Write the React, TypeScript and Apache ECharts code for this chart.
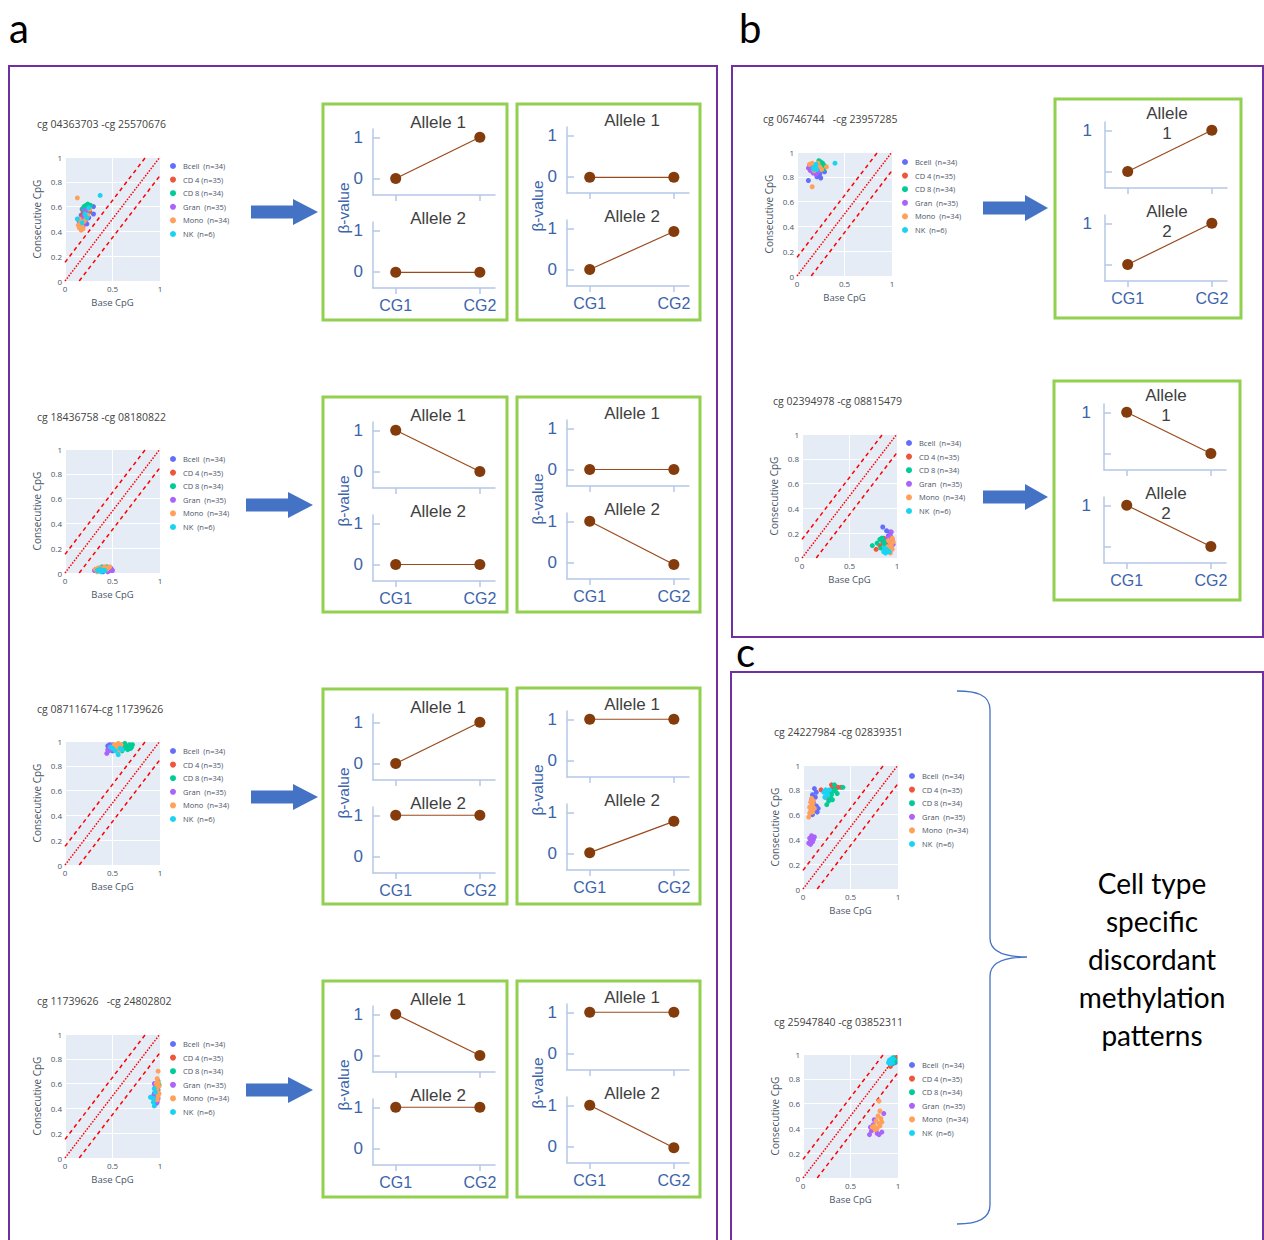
import React, { useEffect, useRef } from "react";
import * as echarts from "echarts";

// ---------- scatter data (Base CpG, Consecutive CpG) ----------
const GROUP_NAMES = ["Bcell  (n=34)", "CD 4 (n=35)", "CD 8 (n=34)", "Gran  (n=35)", "Mono  (n=34)", "NK  (n=6)"];
const GROUP_COLORS = ["#636EFA", "#EF553B", "#00CC96", "#AB63FA", "#FFA15A", "#19D3F3"];

// a1: cg04363703-cg25570676
const a1Bcell = [[0.18,0.58],[0.2,0.55],[0.22,0.52],[0.19,0.5],[0.24,0.57],[0.21,0.48],[0.17,0.53],[0.25,0.51],[0.3,0.6],[0.3,0.54],[0.23,0.46],[0.2,0.59]];
const a1CD4 = [[0.19,0.56],[0.22,0.58],[0.24,0.54],[0.18,0.52],[0.21,0.5],[0.23,0.6],[0.2,0.47],[0.26,0.56],[0.17,0.49],[0.22,0.53]];
const a1CD8 = [[0.22,0.61],[0.24,0.62],[0.26,0.6],[0.2,0.6],[0.23,0.58],[0.25,0.57],[0.27,0.61],[0.21,0.56],[0.24,0.55],[0.19,0.58]];
const a1Gran = [[0.17,0.45],[0.19,0.47],[0.16,0.43],[0.21,0.57],[0.18,0.5],[0.22,0.49],[0.2,0.52],[0.15,0.48],[0.23,0.55],[0.19,0.44]];
const a1Mono = [[0.13,0.67],[0.15,0.43],[0.17,0.41],[0.16,0.46],[0.18,0.44],[0.14,0.45],[0.2,0.48],[0.22,0.5],[0.17,0.48],[0.24,0.53],[0.26,0.58],[0.15,0.5],[0.19,0.42]];
const a1NK = [[0.37,0.69],[0.13,0.5],[0.21,0.54],[0.25,0.59],[0.18,0.47],[0.23,0.51]];

// a2: cg18436758-cg08180822
const a2Bcell = [[0.38,0.03],[0.42,0.02],[0.46,0.03],[0.49,0.02],[0.35,0.02],[0.44,0.04],[0.4,0.01],[0.48,0.04]];
const a2CD4 = [[0.36,0.03],[0.41,0.04],[0.45,0.02],[0.39,0.02],[0.43,0.03],[0.47,0.03],[0.33,0.02]];
const a2CD8 = [[0.39,0.05],[0.42,0.04],[0.37,0.04],[0.44,0.05],[0.46,0.04],[0.4,0.03]];
const a2Gran = [[0.43,0.02],[0.47,0.02],[0.49,0.03],[0.38,0.02],[0.45,0.01],[0.41,0.03],[0.5,0.02],[0.31,0.02]];
const a2Mono = [[0.32,0.03],[0.35,0.04],[0.38,0.04],[0.42,0.05],[0.45,0.04],[0.47,0.05],[0.4,0.02],[0.36,0.02],[0.44,0.03],[0.34,0.01]];
const a2NK = [[0.34,0.02],[0.36,0.02],[0.38,0.01],[0.4,0.02],[0.37,0.03],[0.42,0.02]];

// a3: cg08711674-cg11739626
const a3Bcell = [[0.45,0.96],[0.48,0.94],[0.52,0.95],[0.56,0.97],[0.6,0.95],[0.5,0.92],[0.58,0.93],[0.47,0.97],[0.63,0.96]];
const a3CD4 = [[0.53,0.96],[0.57,0.95],[0.61,0.97],[0.55,0.93],[0.59,0.94],[0.64,0.95]];
const a3CD8 = [[0.62,0.94],[0.65,0.96],[0.68,0.97],[0.7,0.95],[0.66,0.93],[0.63,0.98],[0.69,0.94],[0.71,0.97],[0.6,0.92],[0.67,0.95]];
const a3Gran = [[0.44,0.9],[0.45,0.93],[0.47,0.95],[0.49,0.93],[0.51,0.96],[0.46,0.92],[0.53,0.94],[0.5,0.97]];
const a3Mono = [[0.52,0.97],[0.54,0.95],[0.56,0.98],[0.58,0.96],[0.55,0.94],[0.57,0.92],[0.53,0.93],[0.59,0.97],[0.51,0.95]];
const a3NK = [[0.56,0.89],[0.48,0.95],[0.53,0.92],[0.58,0.94],[0.6,0.93],[0.5,0.94]];

// a4: cg11739626-cg24802802
const a4Bcell = [[0.95,0.48],[0.96,0.52],[0.97,0.5],[0.94,0.46],[0.98,0.55],[0.95,0.54],[0.96,0.44],[0.97,0.57]];
const a4CD4 = [[0.96,0.49],[0.97,0.53],[0.95,0.51],[0.98,0.58],[0.94,0.47]];
const a4CD8 = [[0.98,0.62],[0.97,0.56],[0.96,0.54],[0.99,0.59],[0.95,0.5]];
const a4Gran = [[0.94,0.6],[0.95,0.56],[0.96,0.47],[0.94,0.52],[0.97,0.45],[0.95,0.58],[0.93,0.5],[0.98,0.48]];
const a4Mono = [[0.98,0.7],[0.97,0.64],[0.96,0.6],[0.98,0.61],[0.97,0.55],[0.99,0.52],[0.96,0.57],[0.98,0.5],[0.97,0.47],[0.99,0.58]];
const a4NK = [[0.9,0.49],[0.94,0.42],[0.93,0.45],[0.95,0.53],[0.94,0.56],[0.93,0.48]];

// b1: cg06746744-cg23957285
const b1Bcell = [[0.12,0.77],[0.14,0.86],[0.18,0.84],[0.21,0.8],[0.24,0.82],[0.27,0.85],[0.2,0.88],[0.16,0.9],[0.25,0.79],[0.29,0.84]];
const b1CD4 = [[0.17,0.87],[0.22,0.89],[0.25,0.91],[0.19,0.85],[0.23,0.86],[0.28,0.88]];
const b1CD8 = [[0.23,0.93],[0.25,0.92],[0.27,0.91],[0.29,0.89],[0.24,0.9],[0.28,0.86],[0.26,0.88]];
const b1Gran = [[0.12,0.87],[0.14,0.85],[0.17,0.83],[0.2,0.82],[0.19,0.86],[0.15,0.88],[0.22,0.84],[0.13,0.89]];
const b1Mono = [[0.16,0.72],[0.13,0.9],[0.16,0.91],[0.19,0.89],[0.21,0.87],[0.24,0.88],[0.26,0.86],[0.31,0.88],[0.18,0.85],[0.22,0.91]];
const b1NK = [[0.4,0.91],[0.17,0.87],[0.19,0.88],[0.21,0.86],[0.2,0.9],[0.18,0.86]];

// b2: cg02394978-cg08815479
const b2Bcell = [[0.85,0.25],[0.89,0.22],[0.93,0.21],[0.91,0.18],[0.88,0.15],[0.94,0.13],[0.87,0.11],[0.92,0.09]];
const b2CD4 = [[0.78,0.07],[0.82,0.1],[0.85,0.13],[0.88,0.08],[0.9,0.12],[0.86,0.16]];
const b2CD8 = [[0.74,0.1],[0.79,0.12],[0.82,0.15],[0.84,0.16],[0.86,0.12],[0.88,0.1],[0.83,0.08],[0.87,0.14]];
const b2Gran = [[0.94,0.21],[0.93,0.18],[0.95,0.15],[0.92,0.12],[0.94,0.09],[0.9,0.16],[0.96,0.11]];
const b2Mono = [[0.91,0.14],[0.93,0.12],[0.94,0.1],[0.95,0.07],[0.92,0.06],[0.96,0.13],[0.93,0.04],[0.9,0.09],[0.95,0.16]];
const b2NK = [[0.86,0.05],[0.88,0.04],[0.9,0.06],[0.92,0.05],[0.87,0.08],[0.89,0.07]];

// c1: cg24227984-cg02839351
const c1Bcell = [[0.12,0.81],[0.1,0.76],[0.13,0.74],[0.11,0.7],[0.14,0.67],[0.12,0.64],[0.15,0.62],[0.1,0.6],[0.09,0.72],[0.14,0.78],[0.16,0.65]];
const c1CD4 = [[0.19,0.8],[0.24,0.74],[0.28,0.77],[0.31,0.81],[0.34,0.83],[0.37,0.82],[0.4,0.82],[0.3,0.84],[0.27,0.79]];
const c1CD8 = [[0.25,0.68],[0.27,0.71],[0.29,0.73],[0.3,0.76],[0.32,0.79],[0.34,0.8],[0.36,0.77],[0.33,0.84],[0.42,0.82],[0.28,0.79],[0.31,0.72]];
const c1Gran = [[0.06,0.37],[0.08,0.39],[0.1,0.38],[0.07,0.41],[0.09,0.43],[0.11,0.4],[0.12,0.42],[0.08,0.36]];
const c1Mono = [[0.06,0.58],[0.07,0.61],[0.08,0.63],[0.09,0.66],[0.1,0.68],[0.11,0.71],[0.08,0.7],[0.12,0.65],[0.07,0.66],[0.1,0.62],[0.09,0.73]];
const c1NK = [[0.22,0.78],[0.24,0.8],[0.26,0.76],[0.23,0.74],[0.28,0.8],[0.25,0.78]];

// c2: cg25947840-cg03852311
const c2Bcell = [[0.92,0.94],[0.95,0.95],[0.97,0.93],[0.94,0.92],[0.96,0.96]];
const c2CD4 = [[0.92,0.9],[0.94,0.95],[0.96,0.94],[0.97,0.97],[0.93,0.93]];
const c2CD8 = [[0.93,0.95],[0.95,0.97],[0.97,0.95],[0.96,0.93],[0.94,0.94]];
const c2Gran = [[0.7,0.35],[0.72,0.38],[0.74,0.43],[0.75,0.47],[0.78,0.36],[0.8,0.35],[0.83,0.37],[0.85,0.52],[0.71,0.41],[0.77,0.39]];
const c2Mono = [[0.8,0.62],[0.81,0.54],[0.79,0.5],[0.82,0.48],[0.77,0.46],[0.8,0.44],[0.75,0.42],[0.78,0.4],[0.83,0.45],[0.76,0.39],[0.73,0.41],[0.81,0.42]];
const c2NK = [[0.9,0.93],[0.91,0.95],[0.93,0.96],[0.92,0.92],[0.94,0.93],[0.95,0.96]];

// ---------- allele β-values at CG1, CG2 ----------
const r1b1Allele1 = [0, 1];
const r1b1Allele2 = [-0.02, -0.02];
const r1b2Allele1 = [-0.02, -0.02];
const r1b2Allele2 = [0, 0.92];
const r2b1Allele1 = [1, 0];
const r2b1Allele2 = [0, 0];
const r2b2Allele1 = [0, 0];
const r2b2Allele2 = [1, -0.05];
const r3b1Allele1 = [0, 1];
const r3b1Allele2 = [1, 1];
const r3b2Allele1 = [1, 1];
const r3b2Allele2 = [0.02, 0.78];
const r4b1Allele1 = [1, 0];
const r4b1Allele2 = [1, 1];
const r4b2Allele1 = [1, 1];
const r4b2Allele2 = [1, -0.03];
const pb1Allele1 = [0, 1];
const pb1Allele2 = [0, 1];
const pb2Allele1 = [1, 0];
const pb2Allele2 = [1, 0];

const CG_LABELS = ["CG1", "CG2"];

// ---------- layout ----------
const scatterPlots = [
  { title: "cg 04363703 -cg 25570676", tx: 37, ty: 124, left: 65, top: 157, lgLeft: 170, lgTop: 161, groups: [a1Bcell, a1CD4, a1CD8, a1Gran, a1Mono, a1NK] },
  { title: "cg 18436758 -cg 08180822", tx: 37, ty: 417, left: 65, top: 449, lgLeft: 170, lgTop: 454, groups: [a2Bcell, a2CD4, a2CD8, a2Gran, a2Mono, a2NK] },
  { title: "cg 08711674-cg 11739626", tx: 37, ty: 709, left: 65, top: 741, lgLeft: 170, lgTop: 746, groups: [a3Bcell, a3CD4, a3CD8, a3Gran, a3Mono, a3NK] },
  { title: "cg 11739626   -cg 24802802", tx: 37, ty: 1001, left: 65, top: 1034, lgLeft: 170, lgTop: 1039, groups: [a4Bcell, a4CD4, a4CD8, a4Gran, a4Mono, a4NK] },
  { title: "cg 06746744   -cg 23957285", tx: 763, ty: 119, left: 797, top: 152, lgLeft: 902, lgTop: 157, groups: [b1Bcell, b1CD4, b1CD8, b1Gran, b1Mono, b1NK] },
  { title: "cg 02394978 -cg 08815479", tx: 773, ty: 401, left: 802, top: 434, lgLeft: 906, lgTop: 438, groups: [b2Bcell, b2CD4, b2CD8, b2Gran, b2Mono, b2NK] },
  { title: "cg 24227984 -cg 02839351", tx: 774, ty: 732, left: 803, top: 765, lgLeft: 909, lgTop: 771, groups: [c1Bcell, c1CD4, c1CD8, c1Gran, c1Mono, c1NK] },
  { title: "cg 25947840 -cg 03852311", tx: 774, ty: 1022, left: 803, top: 1054, lgLeft: 909, lgTop: 1060, groups: [c2Bcell, c2CD4, c2CD8, c2Gran, c2Mono, c2NK] },
];

const alleleBoxes = [
  { left: 323, top: 104, w: 184, h: 216, dy: 0, b: false, a1: r1b1Allele1, a2: r1b1Allele2 },
  { left: 517, top: 104, w: 183, h: 216, dy: -2, b: false, a1: r1b2Allele1, a2: r1b2Allele2 },
  { left: 323, top: 397, w: 184, h: 215, dy: 0, b: false, a1: r2b1Allele1, a2: r2b1Allele2 },
  { left: 517, top: 397, w: 183, h: 215, dy: -2, b: false, a1: r2b2Allele1, a2: r2b2Allele2 },
  { left: 323, top: 689, w: 184, h: 215, dy: 0, b: false, a1: r3b1Allele1, a2: r3b1Allele2 },
  { left: 517, top: 688, w: 183, h: 216, dy: -2, b: false, a1: r3b2Allele1, a2: r3b2Allele2 },
  { left: 323, top: 981, w: 184, h: 216, dy: 0, b: false, a1: r4b1Allele1, a2: r4b1Allele2 },
  { left: 517, top: 981, w: 183, h: 216, dy: -2, b: false, a1: r4b2Allele1, a2: r4b2Allele2 },
  { left: 1055, top: 99, w: 186, h: 219, dy: -2, b: true, a1: pb1Allele1, a2: pb1Allele2 },
  { left: 1054, top: 381, w: 186, h: 219, dy: -2, b: true, a1: pb2Allele1, a2: pb2Allele2 },
];

const arrows = [
  [251, 293, 318, 212], [246, 288, 313, 505], [251, 293, 318, 797], [246, 288, 313, 1090],
  [983, 1025, 1048, 208], [983, 1025, 1048, 497],
];

const BRACE_D = "M957,691 C975,691 990,694 990,710 L990,938 C990,952 1005,957 1027,957 C1005,957 990,962 990,976 L990,1205 C990,1220 975,1224 957,1224";
echarts.graphic.registerShape("brace", echarts.graphic.extendPath(BRACE_D, {}));

const BLUE = "#3C64AA";
const AXIS_BLUE = "#B4C7E7";
const BROWN = "#843C0C";
const SCAT_TEXT = "#4a5568";

function buildOption() {
  const grid: any[] = [];
  const xAxis: any[] = [];
  const yAxis: any[] = [];
  const series: any[] = [];
  const legend: any[] = [];
  const els: any[] = [];

  // panel borders and letters
  els.push({ type: "rect", shape: { x: 9, y: 66, width: 708, height: 1190 }, style: { fill: "none", stroke: "#7030A0", lineWidth: 2 }, z: 0 });
  els.push({ type: "rect", shape: { x: 732, y: 66, width: 531, height: 571 }, style: { fill: "none", stroke: "#7030A0", lineWidth: 2 }, z: 0 });
  els.push({ type: "rect", shape: { x: 731, y: 672, width: 532, height: 590 }, style: { fill: "none", stroke: "#7030A0", lineWidth: 2 }, z: 0 });
  const letter = (t: string, x: number, y: number) => ({ type: "text", x, y, style: { text: t, fontSize: 40, fontFamily: "Lato", fill: "#000", align: "left", verticalAlign: "middle" } });
  els.push(letter("a", 9, 28), letter("b", 739, 28), letter("c", 736, 652));

  // scatter plots
  scatterPlots.forEach((p, i) => {
    grid.push({ left: p.left, top: p.top, width: 95, height: 124, show: true, backgroundColor: "#E5ECF6", borderWidth: 0 });
    xAxis.push({
      type: "value", gridIndex: i, min: 0, max: 1, interval: 0.5,
      axisLine: { show: false }, axisTick: { show: false },
      splitLine: { show: true, lineStyle: { color: "#ffffff", width: 1 } },
      axisLabel: { fontSize: 8, color: SCAT_TEXT, margin: 3, fontFamily: "Open Sans" },
      name: "Base CpG", nameLocation: "middle", nameGap: 16,
      nameTextStyle: { fontSize: 9.5, color: SCAT_TEXT, fontFamily: "Open Sans" },
    });
    yAxis.push({
      type: "value", gridIndex: i, min: 0, max: 1, interval: 0.2,
      axisLine: { show: false }, axisTick: { show: false },
      splitLine: { show: true, lineStyle: { color: "#ffffff", width: 1 } },
      axisLabel: { fontSize: 8, color: SCAT_TEXT, margin: 3, fontFamily: "Open Sans" },
      name: "Consecutive CpG", nameLocation: "middle", nameGap: 23,
      nameTextStyle: { fontSize: 10, color: SCAT_TEXT, fontFamily: "Open Sans" },
    });
    const diag = (d: number[][], type: any) => ({
      type: "line", xAxisIndex: i, yAxisIndex: i, data: d, symbol: "none", silent: true, z: 1,
      lineStyle: { color: "#FF0000", width: 1.5, type },
    });
    series.push(diag([[0, 0.15], [0.85, 1]], [4, 3.5]));
    series.push(diag([[0, 0], [1, 1]], [1.5, 1.5]));
    series.push(diag([[0.15, 0], [1, 0.85]], [4, 3.5]));
    p.groups.forEach((g, k) => {
      series.push({
        type: "scatter", name: GROUP_NAMES[k], xAxisIndex: i, yAxisIndex: i, data: g,
        symbolSize: 5, z: 2, itemStyle: { color: GROUP_COLORS[k], opacity: 1 },
      });
    });
    legend.push({
      data: GROUP_NAMES, selectedMode: false, orient: "vertical", left: p.lgLeft, top: p.lgTop,
      itemWidth: 6, itemHeight: 6, itemGap: 3.6, icon: "circle", padding: 0,
      textStyle: { fontSize: 7.5, color: SCAT_TEXT, lineHeight: 10, fontFamily: "Open Sans", padding: [0, 0, 0, 2] },
    });
    els.push({ type: "text", x: p.tx, y: p.ty, style: { text: p.title, fontSize: 10.5, fontFamily: "Open Sans", fill: "#444", align: "left", verticalAlign: "middle" } });
  });

  // allele boxes
  let gi = scatterPlots.length;
  alleleBoxes.forEach((bx) => {
    els.push({ type: "rect", shape: { x: bx.left, y: bx.top, width: bx.w, height: bx.h }, style: { fill: "none", stroke: "#92D050", lineWidth: 3 }, z: 0 });
    [bx.a1, bx.a2].forEach((vals, ai) => {
      const top = bx.top + (ai === 0 ? 25 : 118) + bx.dy;
      grid.push({ left: bx.left + 50, top, width: 122, height: 66 });
      xAxis.push({
        type: "value", gridIndex: gi, min: -0.27, max: 1.18,
        axisLine: { show: true, onZero: false, lineStyle: { color: AXIS_BLUE, width: 1.5 } },
        axisTick: { show: true, customValues: [0, 1], length: 6, lineStyle: { color: AXIS_BLUE, width: 1.5 } },
        axisLabel: {
          show: ai === 1, customValues: [0, 1], margin: 9, fontSize: 16, color: BLUE, fontFamily: "Liberation Sans",
          formatter: (v: number) => CG_LABELS[Math.round(v)] ?? "",
        },
        splitLine: { show: false },
      });
      yAxis.push({
        type: "value", gridIndex: gi, min: -0.4, max: 1.2,
        axisLine: { show: true, onZero: false, lineStyle: { color: AXIS_BLUE, width: 1.5 } },
        axisTick: { show: true, inside: true, customValues: [0, 1], length: 7, lineStyle: { color: AXIS_BLUE, width: 1.5 } },
        axisLabel: {
          show: true, customValues: bx.b ? [1] : [0, 1], margin: bx.b ? 13 : 10, fontSize: 17, color: BLUE, fontFamily: "Liberation Sans",
          formatter: (v: number) => String(Math.round(v)),
        },
        splitLine: { show: false },
      });
      series.push({
        type: "line", xAxisIndex: gi, yAxisIndex: gi, data: vals.map((v, k) => [k, v]),
        symbol: "circle", symbolSize: 11, z: 3,
        itemStyle: { color: BROWN, borderWidth: 0 },
        lineStyle: { color: "#9A4A1C", width: 1.2 },
      });
      const title = bx.b ? `Allele\n${ai + 1}` : `Allele ${ai + 1}`;
      const ty = bx.b ? bx.top + (ai === 0 ? 26 : 124.5) + bx.dy : bx.top + (ai === 0 ? 18 : 114) + bx.dy;
      els.push({ type: "text", x: bx.left + (bx.b ? 112 : 115), y: ty, z: 5, style: { text: title, fontSize: 17, lineHeight: 20, fontFamily: "Liberation Sans", fill: "#404040", align: "center", verticalAlign: "middle" } });
      gi++;
    });
    if (!bx.b) {
      els.push({ type: "text", x: bx.left + 20, y: bx.top + 104 + bx.dy, rotation: Math.PI / 2, z: 5, style: { text: "β-value", fontSize: 15.5, fontFamily: "Liberation Sans", fill: BLUE, align: "center", verticalAlign: "middle" } });
    }
  });

  // arrows
  arrows.forEach(([x0, xh, x1, cy]) => {
    const h1 = 6.5, h2 = 13;
    els.push({ type: "polygon", shape: { points: [[x0, cy - h1], [xh, cy - h1], [xh, cy - h2], [x1, cy], [xh, cy + h2], [xh, cy + h1], [x0, cy + h1]] }, style: { fill: "#4472C4" } });
  });

  // brace and text in panel c
  els.push({ type: "brace", x: 0, y: 0, style: { fill: "none", stroke: "#4472C4", lineWidth: 1.3 } });
  els.push({ type: "text", x: 1152, y: 959, style: { text: "Cell type\nspecific\ndiscordant\nmethylation\npatterns", fontSize: 28, lineHeight: 38, fontFamily: "Lato", fill: "#000", align: "center", verticalAlign: "middle" } });

  return {
    animation: false,
    backgroundColor: "#ffffff",
    grid, xAxis, yAxis, series, legend,
    graphic: { elements: els },
  };
}

export default function App() {
  const ref = useRef<HTMLDivElement>(null);
  useEffect(() => {
    if (!ref.current) return;
    const chart = echarts.init(ref.current, null, { renderer: "svg", width: 1264, height: 1240 });
    chart.setOption(buildOption() as any);
    return () => chart.dispose();
  }, []);
  return <div ref={ref} style={{ position: "absolute", left: 0, top: 0, width: 1264, height: 1240, background: "#fff" }} />;
}
